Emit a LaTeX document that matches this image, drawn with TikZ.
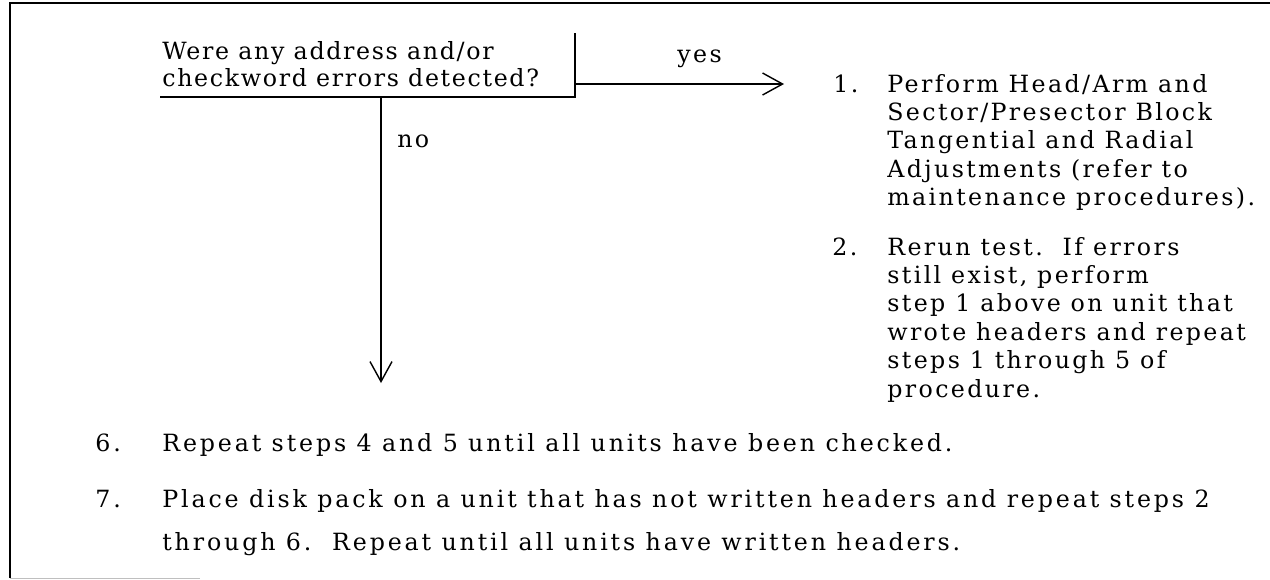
\documentclass[tikz,border=0pt]{standalone}
\usepackage{fontspec}
\setmainfont{DejaVu Serif}[LetterSpace=10]
\newfontfamily\qfont{DejaVu Serif}[LetterSpace=7]
\newfontfamily\widefont{DejaVu Serif}[LetterSpace=12]
\usetikzlibrary{arrows.meta,positioning}

\newcommand{\lines}[2]{\parbox[t]{#1}{\raggedright #2}}

\begin{document}
\begin{tikzpicture}[
    x=0.02cm, y=-0.02cm,
    txt/.style={inner sep=0pt, anchor=base west, font=\fontsize{13.5}{16.2}\selectfont},
    qtxt/.style={txt, font=\fontsize{13.5}{15.9}\selectfont\qfont},
    wide/.style={txt, font=\fontsize{13.5}{25}\selectfont\widefont},
    rule/.style={line width=0.8pt},
    flow/.style={line width=0.8pt, -{Straight Barb[length=4mm, width=4.4mm, line width=0.8pt]}}
  ]
    \useasboundingbox (0,0) rectangle (1270,579);

    % frame
    \draw[rule] (1270,3) -- (10,3) -- (10,578);
    \draw[gray!50, line width=0.5pt] (10,578) -- (200,578);

    % question
    \node[qtxt] (question) at (162,59)
      {\lines{9cm}{Were any address and/or\\ checkword errors detected?}};
    \coordinate (qsw) at (160,97);
    \coordinate (qse) at (575,97);
    \coordinate (qne) at (575,33);
    \draw[rule] (qsw) -- (qse) -- (qne);

    % yes branch
    \coordinate (yesstart) at (575,84);
    \coordinate (yesend) at (784,84);
    \draw[flow] (yesstart) -- (yesend);
    \node[txt] (yes) at (677,62) {yes};

    \node[txt] (num1) at (833,92) {1.};
    \node[txt] (step1) at (887,92)
      {\lines{8cm}{Perform Head/Arm and\\ Sector/Presector Block\\ Tangential and Radial\\
       Adjustments (refer to\\ maintenance procedures).}};
    \node[txt] (num2) at (832,255) {2.};
    \node[txt] (step2) at (887,255)
      {\lines{8cm}{Rerun test.\ \ If errors\\ still exist, perform\\ step 1 above on unit that\\
       wrote headers and repeat\\ steps 1 through 5 of\\ procedure.}};

    % no branch
    \coordinate (nostart) at (381,97);
    \coordinate (noend) at (381,383);
    \draw[flow] (nostart) -- (noend);
    \node[txt] (no) at (397,147) {no};

    % remaining steps
    \node[wide] (num6) at (95,451) {6.};
    \node[wide] (step6) at (162,451) {Repeat steps 4 and 5 until all units have been checked.};
    \node[wide] (num7) at (95,507) {7.};
    \node[wide] (step7) at (162,507)
      {\lines{24cm}{Place disk pack on a unit that has not written headers and repeat steps 2\\
       through 6.\ \ Repeat until all units have written headers.}};
  \end{tikzpicture}
\end{document}
